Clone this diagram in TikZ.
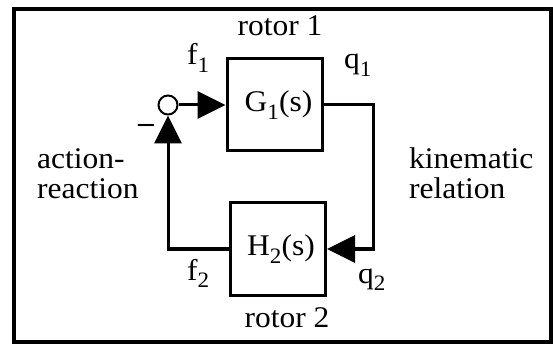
\documentclass[tikz,border=0pt]{standalone}
\usepackage{fontspec}
\setmainfont[FakeStretch=1.05]{Liberation Serif}
\usepackage{tikz}
\usetikzlibrary{arrows.meta}
\newcommand{\lowidx}[1]{\raisebox{-0.25em}{\fontsize{22}{22}\selectfont #1}}

\begin{document}
\begin{tikzpicture}[x=1pt, y=-1pt,
  blk/.style={draw, line width=3pt, minimum width=95pt, minimum height=92pt,
    inner sep=0pt, font=\fontsize{30}{30}\selectfont},
  sumpt/.style={draw, circle, line width=2pt, minimum size=19pt, inner sep=0pt},
  lab/.style={font=\fontsize{30}{30}\selectfont, inner sep=0pt},
  wire/.style={line width=3pt},
  arr/.style={wire, -{Triangle[length=28pt, width=27pt]}}]
\useasboundingbox (0,0) rectangle (553,344);
\draw[line width=4pt] (14,9.5) rectangle (551,342);
\node[blk] (g1) at (274.5,105) {\kern8pt G\lowidx{1}(s)};
\node[blk] (h2) at (278,249) {\kern6pt H\lowidx{2}(s)};
\node[sumpt] (sum) at (168,105) {};
\coordinate (kr) at (373,105);
\node[lab, anchor=base] (minus) at (146,133) {\textbf{\textendash}};
% labels
\node[lab, anchor=base] (r1) at (280,36) {rotor 1};
\node[lab, anchor=base] (r2) at (287,327) {rotor 2};
\node[lab, anchor=base west] (f1) at (187,65) {f\lowidx{1}};
\node[lab, anchor=base west] (q1) at (344,69) {q\lowidx{1}};
\node[lab, anchor=base west] (f2) at (187,280) {f\lowidx{2}};
\node[lab, anchor=base west] (q2) at (358,283) {q\lowidx{2}};
\node[lab, anchor=north west, align=left] (act) at (37,148) {action-\\reaction};
\node[lab, anchor=north west, align=left] (kin) at (409,147) {kinematic\\relation};
% loop
\draw[arr] (sum) -- (g1);
\draw[arr] (g1.east) -- (kr) |- (h2.east);
\draw[arr] (h2.west) -| (sum.south);
\end{tikzpicture}
\end{document}
